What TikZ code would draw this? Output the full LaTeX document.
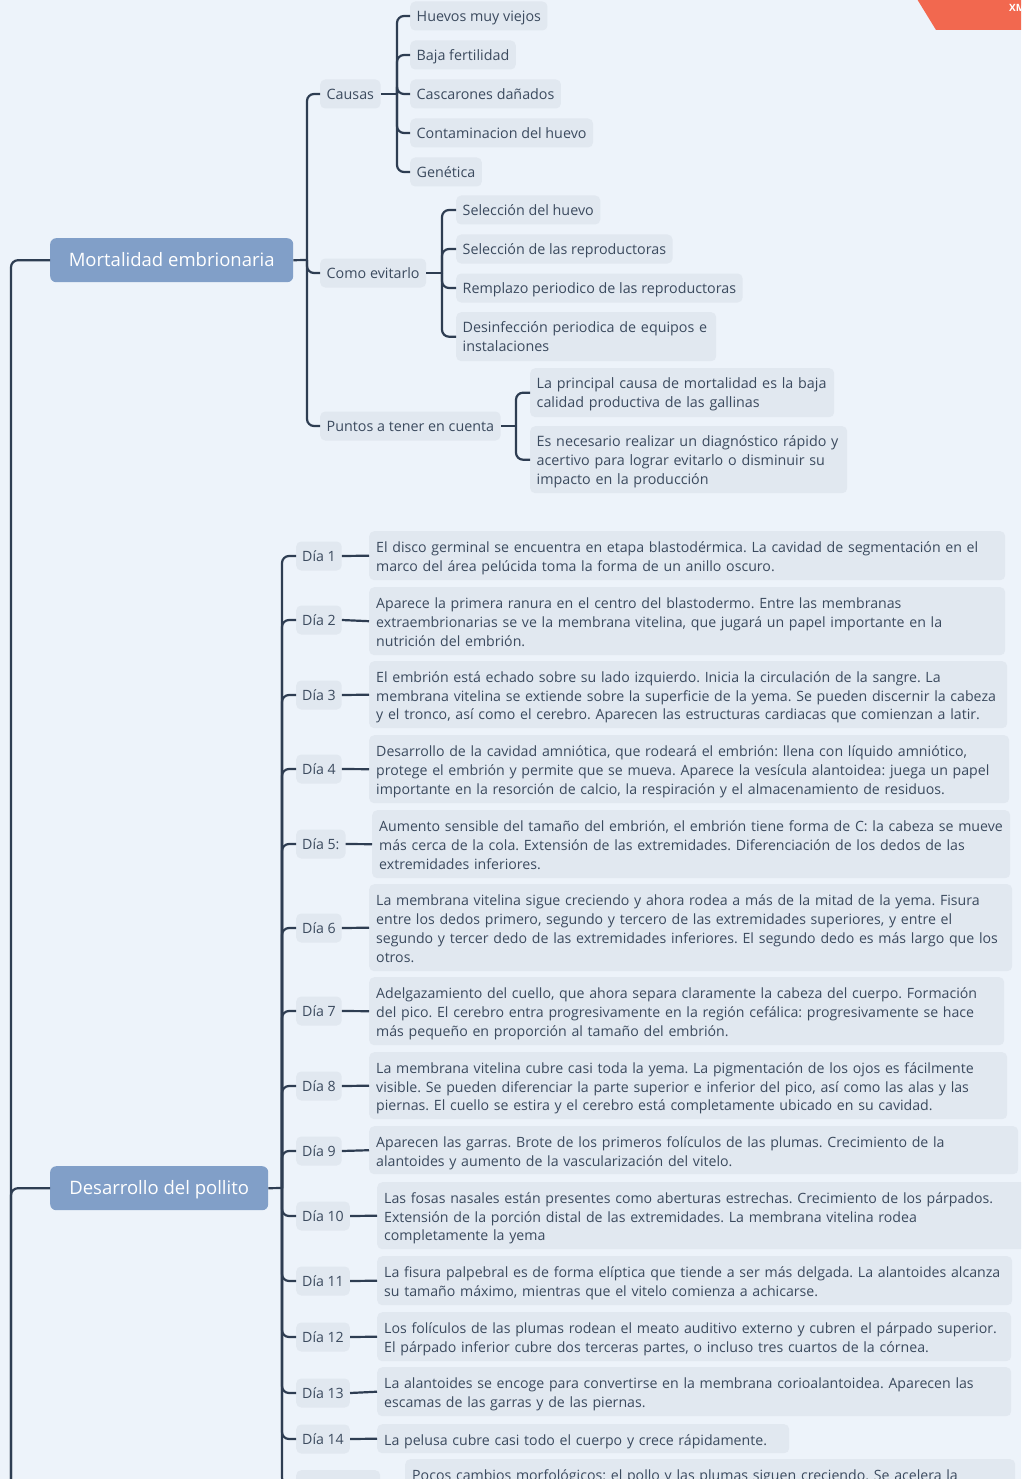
\documentclass[tikz,border=0pt]{standalone}
\usepackage{fontspec}
\setmainfont{Open Sans}
\usetikzlibrary{calc}
\definecolor{bg}{HTML}{EDF3FA}
\definecolor{boxc}{HTML}{E1E8F0}
\definecolor{txt}{HTML}{3B4A5E}
\definecolor{lc}{HTML}{2E3D52}
\definecolor{mainc}{HTML}{819FC8}
\definecolor{redc}{HTML}{F2684F}
\newcommand\fs{\fontsize{14.3}{19}\selectfont\frenchspacing}
\newcommand\fd{\fontsize{14.15}{18.8}\selectfont\frenchspacing}
\newcommand\sttop{\rule{0pt}{15.5pt}}
\newcommand\sdtop{\rule[-4.3pt]{0pt}{4.3pt}}
\newcommand\stday{\rule{0pt}{17pt}}
\newcommand\sdday{\rule[-4.2pt]{0pt}{4.2pt}}
\begin{document}
\begin{tikzpicture}[x=1pt,y=-1pt,
  conn/.style={draw=lc, line width=2.2pt, rounded corners=7pt},
  topic/.style={fill=boxc, text=txt, rounded corners=5pt, inner xsep=6.5pt, inner ysep=0pt, minimum height=29pt, text height=14pt, text depth=3pt, anchor=west, font=\fs},
  daybox/.style={fill=boxc, text=txt, rounded corners=5pt, inner xsep=6pt, inner ysep=0pt, minimum height=29pt, text height=14pt, text depth=3pt, anchor=west, font=\fd},
  desctop/.style={fill=boxc, text=txt, rounded corners=5pt, inner xsep=6.5pt, inner ysep=0pt, anchor=north west, align=left, font=\fs, execute at begin node=\sttop, execute at end node=\sdtop},
  desc/.style={fill=boxc, text=txt, rounded corners=5pt, inner xsep=7pt, inner ysep=0pt, anchor=north west, align=left, font=\fd, execute at begin node=\stday, execute at end node=\sdday},
  mainbox/.style={fill=mainc, text=white, rounded corners=6pt, minimum height=44pt, inner xsep=0pt, text height=15pt, text depth=2pt, anchor=north west, font=\fontsize{18.5}{22}\selectfont}
]
\useasboundingbox (0,0) rectangle (1021,1479);
\clip (0,0) rectangle (1021,1479);
\fill[bg] (0,0) rectangle (1021,1479);

% watermark corner
\fill[redc] (917,-1) -- (1022,-1) -- (1022,30) -- (936,30) -- cycle;
\node[text=white, font=\bfseries\fontsize{10}{12}\selectfont, anchor=west, inner sep=0pt] (wm) at (1009,8) {XMIND};

% main topics
\node[mainbox, minimum width=243pt] (mort) at (50,238) {Mortalidad embrionaria};
\node[mainbox, minimum width=218pt] (des) at (50,1166) {Desarrollo del pollito};

% trunk
\coordinate (root) at (11,1700);
\draw[conn] (root) |- (mort.west);
\draw[conn] (root) |- (des.west);

% level 2 (Mortalidad)
\node[topic] (causas) at (320,94) {Causas};
\node[topic] (como) at (320,273) {Como evitarlo};
\node[topic] (puntos) at (320,426) {Puntos a tener en cuenta};
\coordinate (jm) at (307,260);
\draw[conn] (mort.east) -- (jm);
\foreach \c in {causas,como,puntos} \draw[conn] (jm) |- (\c.west);

% Causas children
\node[topic] (c1) at (410,16) {Huevos muy viejos};
\node[topic] (c2) at (410,55) {Baja fertilidad};
\node[topic] (c3) at (410,94) {Cascarones dañados};
\node[topic] (c4) at (410,133) {Contaminacion del huevo};
\node[topic] (c5) at (410,172) {Genética};
\coordinate (jc) at (397,94);
\draw[conn] (causas.east) -- (jc);
\foreach \c in {c1,c2,c3,c4,c5} \draw[conn] (jc) |- (\c.west);

% Como evitarlo children
\node[topic] (e1) at (456,210) {Selección del huevo};
\node[topic] (e2) at (456,249) {Selección de las reproductoras};
\node[topic] (e3) at (456,288) {Remplazo periodico de las reproductoras};
\node[desctop, text width=247pt, minimum height=49pt] (e4) at (456,312) {Desinfección periodica de equipos e\\instalaciones};
\coordinate (je) at (442,273);
\draw[conn] (como.east) -- (je);
\foreach \c in {e1,e2,e3,e4} \draw[conn] (je) |- (\c.west);

% Puntos children
\node[desctop, text width=291pt, minimum height=49pt] (p1) at (530,368) {La principal causa de mortalidad es la baja\\calidad productiva de las gallinas};
\node[desctop, text width=304pt, minimum height=67pt] (p2) at (530,426) {Es necesario realizar un diagnóstico rápido y\\acertivo para lograr evitarlo o disminuir su\\impacto en la producción};
\coordinate (jp) at (516,426);
\draw[conn] (puntos.east) -- (jp);
\foreach \c in {p1,p2} \draw[conn] (jp) |- (\c.west);

% Desarrollo: day nodes
\node[daybox] (d1) at (296,556) {Día 1};
\node[daybox] (d2) at (296,620) {Día 2};
\node[daybox] (d3) at (296,695) {Día 3};
\node[daybox] (d4) at (296,769) {Día 4};
\node[daybox] (d5) at (296,844) {Día 5:};
\node[daybox] (d6) at (296,928) {Día 6};
\node[daybox] (d7) at (296,1011) {Día 7};
\node[daybox] (d8) at (296,1086) {Día 8};
\node[daybox] (d9) at (296,1151) {Día 9};
\node[daybox] (d10) at (296,1216) {Día 10};
\node[daybox] (d11) at (296,1281) {Día 11};
\node[daybox] (d12) at (296,1337) {Día 12};
\node[daybox] (d13) at (296,1393) {Día 13};
\node[daybox] (d14) at (296,1439) {Día 14};
\node[daybox, minimum width=84pt, anchor=north west] (d15) at (296,1470) {};

% descriptions
\node[desc, text width=622pt, minimum height=49pt] (t1) at (369,531) {El disco germinal se encuentra en etapa blastodérmica. La cavidad de segmentación en el\\marco del área pelúcida toma la forma de un anillo oscuro.};
\node[desc, text width=622pt, minimum height=68pt] (t2) at (369,587) {Aparece la primera ranura en el centro del blastodermo. Entre las membranas\\extraembrionarias se ve la membrana vitelina, que jugará un papel importante en la\\nutrición del embrión.};
\node[desc, text width=624pt, minimum height=67pt] (t3) at (369,661) {El embrión está echado sobre su lado izquierdo. Inicia la circulación de la sangre. La\\membrana vitelina se extiende sobre la superficie de la yema. Se pueden discernir la cabeza\\y el tronco, así como el cerebro. Aparecen las estructuras cardiacas que comienzan a latir.};
\node[desc, text width=626pt, minimum height=68pt] (t4) at (369,735) {Desarrollo de la cavidad amniótica, que rodeará el embrión: llena con líquido amniótico,\\protege el embrión y permite que se mueva. Aparece la vesícula alantoidea: juega un papel\\importante en la resorción de calcio, la respiración y el almacenamiento de residuos.};
\node[desc, text width=624pt, minimum height=68pt] (t5) at (372,810) {Aumento sensible del tamaño del embrión, el embrión tiene forma de C: la cabeza se mueve\\más cerca de la cola. Extensión de las extremidades. Diferenciación de los dedos de las\\extremidades inferiores.};
\node[desc, text width=629pt, minimum height=87pt] (t6) at (369,884) {La membrana vitelina sigue creciendo y ahora rodea a más de la mitad de la yema. Fisura\\entre los dedos primero, segundo y tercero de las extremidades superiores, y entre el\\segundo y tercer dedo de las extremidades inferiores. El segundo dedo es más largo que los\\otros.};
\node[desc, text width=621pt, minimum height=68pt] (t7) at (369,977) {Adelgazamiento del cuello, que ahora separa claramente la cabeza del cuerpo. Formación\\del pico. El cerebro entra progresivamente en la región cefálica: progresivamente se hace\\más pequeño en proporción al tamaño del embrión.};
\node[desc, text width=624pt, minimum height=67pt] (t8) at (369,1052) {La membrana vitelina cubre casi toda la yema. La pigmentación de los ojos es fácilmente\\visible. Se pueden diferenciar la parte superior e inferior del pico, así como las alas y las\\piernas. El cuello se estira y el cerebro está completamente ubicado en su cavidad.};
\node[desc, text width=635pt, minimum height=48pt] (t9) at (369,1126) {Aparecen las garras. Brote de los primeros folículos de las plumas. Crecimiento de la\\alantoides y aumento de la vascularización del vitelo.};
\node[desc, text width=640pt, minimum height=67pt] (t10) at (377,1182) {Las fosas nasales están presentes como aberturas estrechas. Crecimiento de los párpados.\\Extensión de la porción distal de las extremidades. La membrana vitelina rodea\\completamente la yema};
\node[desc, text width=621pt, minimum height=49pt] (t11) at (377,1256) {La fisura palpebral es de forma elíptica que tiende a ser más delgada. La alantoides alcanza\\su tamaño máximo, mientras que el vitelo comienza a achicarse.};
\node[desc, text width=620pt, minimum height=49pt] (t12) at (377,1312) {Los folículos de las plumas rodean el meato auditivo externo y cubren el párpado superior.\\El párpado inferior cubre dos terceras partes, o incluso tres cuartos de la córnea.};
\node[desc, text width=620pt, minimum height=49pt] (t13) at (377,1367) {La alantoides se encoge para convertirse en la membrana corioalantoidea. Aparecen las\\escamas de las garras y de las piernas.};
\node[desc, text width=398pt, minimum height=29pt] (t14) at (377,1424) {La pelusa cubre casi todo el cuerpo y crece rápidamente.};
\node[desc, text width=596pt, minimum height=49pt] (t15) at (405,1459) {Pocos cambios morfológicos: el pollo y las plumas siguen creciendo. Se acelera la\\\mbox{}};

\coordinate (jd) at (282,1188);
\draw[conn] (des.east) -- (jd);
\foreach \i in {1,...,15} {
  \draw[conn] (jd) |- (d\i.west);
  \draw[conn] (d\i.east) -- (t\i.west);
}
\end{tikzpicture}
\end{document}
